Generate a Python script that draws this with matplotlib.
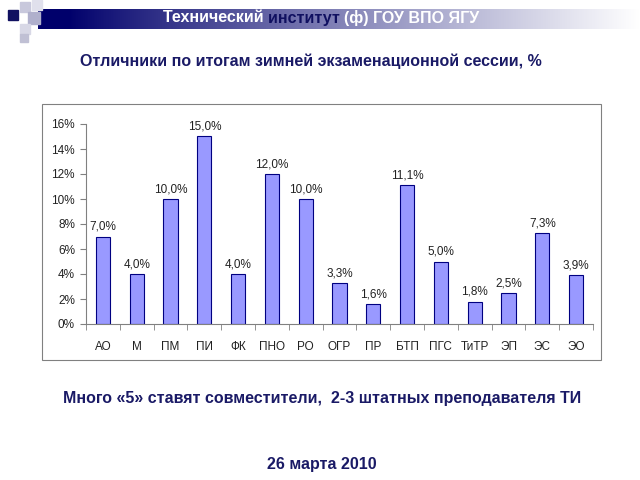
import numpy as np
import matplotlib.pyplot as plt
from matplotlib.patches import Rectangle
from matplotlib.ticker import FuncFormatter, MultipleLocator
from matplotlib.transforms import offset_copy

plt.rcParams['font.family'] = ['Liberation Sans', 'DejaVu Sans']

# data
categories = ['АО', 'М', 'ПМ', 'ПИ', 'ФК', 'ПНО', 'РО', 'ОГР', 'ПР', 'БТП',
              'ПГС', 'ТиТР', 'ЭП', 'ЭС', 'ЭО']
values = [7.0, 4.0, 10.0, 15.0, 4.0, 12.0, 10.0, 3.3, 1.6, 11.1,
          5.0, 1.8, 2.5, 7.3, 3.9]

navy = '#1a1a66'

fig = plt.figure(figsize=(6.4, 4.8), dpi=100)

# header gradient band
band = fig.add_axes([0.06, 1 - 29 / 480, 0.94, 20 / 480])
grad = np.linspace(0, 1, 256).reshape(1, -1)
c0 = np.array([0.0, 0.0, 0.42])
c1 = np.array([1.0, 1.0, 1.0])
t = np.clip((grad - 0.05) / 0.95, 0, 1) ** 0.9
img = c0[None, None, :] * (1 - t[..., None]) + c1[None, None, :] * t[..., None]
band.imshow(img, aspect='auto', extent=[0, 1, 0, 1])
band.axis('off')

# decorative squares
sq = [(8, 10, 10, '#101060'), (20, 2, 10, '#c8c8dc'), (28, 12, 12, '#b0b0cc'),
      (20, 24, 10, '#d8d8e6'), (32, 0, 10, '#e0e0ec'), (20, 34, 8, '#c0c0d4')]
for x, y, s, c in sq:
    fig.patches.append(Rectangle((x / 640, 1 - (y + s) / 480), s / 640, s / 480,
                                 transform=fig.transFigure, color=c, zorder=5))

# header text, three pieces in a row
pieces = [('Технический ', 'white'), ('институт ', '#101060'),
          ('(ф) ГОУ ВПО ЯГУ', 'white')]
renderer = fig.canvas.get_renderer()
tr = fig.transFigure
xpos = 163 / 640
for s, c in pieces:
    txt = fig.text(xpos, 1 - 18 / 480, s, color=c, fontsize=11.5,
                   fontweight='bold', ha='left', va='center', transform=tr)
    w = txt.get_window_extent(renderer).width
    xpos += w / 640

fig.text(0.485, 1 - 61 / 480, 'Отличники по итогам зимней экзаменационной сессии, %',
         color=navy, fontsize=11.5, fontweight='bold', ha='center', va='center')

# chart frame
fig.patches.append(Rectangle((42 / 640, 1 - 360 / 480), 559 / 640, 256 / 480,
                             transform=fig.transFigure, fill=False,
                             edgecolor='#808080', linewidth=0.8))

ax = fig.add_axes([86 / 640, 1 - 324 / 480, 507 / 640, 200 / 480])
x = np.arange(len(categories))
ax.bar(x, values, width=0.42, color='#9999ff', edgecolor='#000080', linewidth=0.8)
for xi, v in zip(x, values):
    ax.text(xi, v + 0.3, f'{v:.1f}%'.replace('.', ','), ha='center', va='bottom',
            fontsize=8.5, color='#222222')

ax.set_xlim(-0.5, len(categories) - 0.5)
ax.set_ylim(0, 16)
ax.yaxis.set_major_locator(MultipleLocator(2))
ax.yaxis.set_major_formatter(FuncFormatter(lambda v, p: f'{v:.0f}%'))
ax.set_xticks(x)
ax.set_xticklabels(categories)
ax.set_xticks(np.arange(-0.5, len(categories)), minor=True)
ax.tick_params(axis='x', which='major', length=0, pad=12, labelsize=8.5,
               colors='#222222')
ax.tick_params(axis='x', which='minor', length=4, color='#808080')
ax.tick_params(axis='y', length=4, color='#808080', labelsize=8.5,
               labelcolor='#222222', pad=4)
for s in ['top', 'right']:
    ax.spines[s].set_visible(False)
ax.spines['left'].set_color('#808080')
ax.spines['bottom'].set_color('#808080')
ax.patch.set_alpha(0)

fig.text(0.503, 1 - 398 / 480,
         'Много «5» ставят совместители,  2-3 штатных преподавателя ТИ',
         color=navy, fontsize=11.5, fontweight='bold', ha='center', va='center')
fig.text(0.503, 1 - 465 / 480, '26 марта 2010', color=navy, fontsize=11.5,
         fontweight='bold', ha='center', va='center')

fig.savefig('out.png', dpi=100)
